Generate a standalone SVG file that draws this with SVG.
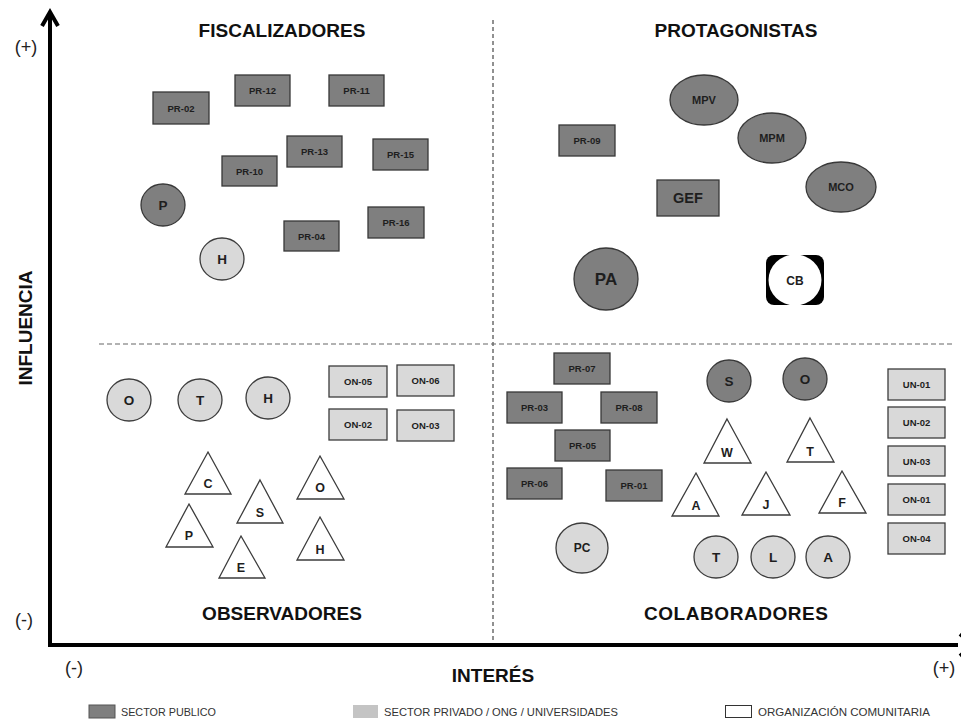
<svg xmlns="http://www.w3.org/2000/svg" width="961" height="719" viewBox="0 0 961 719">
<style>
text{font-family:"Liberation Sans",Arial,sans-serif;fill:#1e1e1e;text-anchor:middle}
.t{font-size:19px;font-weight:bold;fill:#111}
.l{font-size:9.5px;font-weight:bold}
.m{font-size:11px;font-weight:bold}
.c{font-size:13.5px;font-weight:bold}
.tr{font-size:12.5px;font-weight:bold}
.pub{fill:#7f7f7f;stroke:#383838;stroke-width:1.3}
.priv{fill:#d9d9d9;stroke:#3c3c3c;stroke-width:1.3}
.com{fill:#fff;stroke:#3c3c3c;stroke-width:1.3}
.ax{fill:none;stroke:#000;stroke-width:4}
.sign{font-size:18px;fill:#222}
.leg{font-size:10.5px;fill:#333;text-anchor:start}
</style>
<defs>
<clipPath id="cbclip"><rect x="766" y="255" width="58" height="50" rx="8"/></clipPath>
</defs>
<rect width="961" height="719" fill="#fff"/>

<g id="axes">
<line x1="493" y1="20" x2="493" y2="642" stroke="#222" stroke-width="1" stroke-dasharray="4 3"/>
<line x1="99" y1="344" x2="952" y2="344" stroke="#666" stroke-width="1.2" stroke-dasharray="5 3"/>
<line class="ax" x1="50" y1="647" x2="50" y2="12"/>
<polyline class="ax" points="42,26 50,12 58,26"/>
<line class="ax" x1="48" y1="645" x2="958" y2="645"/>
<polyline class="ax" points="960,634 973,645 960,656"/>
<text class="sign" x="26" y="53">(+)</text>
<text class="sign" x="24" y="626">(-)</text>
<text class="sign" x="74" y="674">(-)</text>
<text class="sign" x="944" y="674">(+)</text>
<text class="t" transform="translate(32,328) rotate(-90)">INFLUENCIA</text>
<text class="t" x="493" y="682">INTERÉS</text>
</g>

<g id="titles">
<text class="t" x="282" y="37">FISCALIZADORES</text>
<text class="t" x="736" y="37">PROTAGONISTAS</text>
<text class="t" x="282" y="620">OBSERVADORES</text>
<text class="t" x="736" y="620" textLength="184">COLABORADORES</text>
</g>

<g id="connectors"></g>

<!-- Fiscalizadores -->
<g id="pr02"><rect class="pub" x="153" y="92" width="56" height="32"/><text class="l" x="181" y="111.5">PR-02</text></g>
<g id="pr12"><rect class="pub" x="235" y="75" width="55" height="31"/><text class="l" x="262.5" y="94">PR-12</text></g>
<g id="pr11"><rect class="pub" x="329" y="75" width="55" height="31"/><text class="l" x="356.5" y="94">PR-11</text></g>
<g id="pr13"><rect class="pub" x="287" y="136" width="55" height="31"/><text class="l" x="314.5" y="155">PR-13</text></g>
<g id="pr15"><rect class="pub" x="373" y="139" width="55" height="31"/><text class="l" x="400.5" y="158">PR-15</text></g>
<g id="pr10"><rect class="pub" x="222" y="156" width="55" height="30"/><text class="l" x="249.5" y="174.5">PR-10</text></g>
<g id="pr04"><rect class="pub" x="284" y="221" width="55" height="30"/><text class="l" x="311.5" y="239.5">PR-04</text></g>
<g id="pr16"><rect class="pub" x="368" y="207" width="56" height="31"/><text class="l" x="396" y="226">PR-16</text></g>
<g id="p1"><ellipse class="pub" cx="163" cy="205" rx="22" ry="21"/><text class="c" x="163" y="210">P</text></g>
<g id="h1"><ellipse class="priv" cx="222" cy="259" rx="22" ry="21"/><text class="c" x="222" y="264">H</text></g>

<!-- Protagonistas -->
<g id="mpv"><ellipse class="pub" cx="704" cy="100" rx="34" ry="25"/><text class="m" x="704" y="104">MPV</text></g>
<g id="mpm"><ellipse class="pub" cx="772" cy="138" rx="34" ry="25"/><text class="m" x="772" y="142">MPM</text></g>
<g id="mco"><ellipse class="pub" cx="841" cy="187" rx="35" ry="25"/><text class="m" x="841" y="191">MCO</text></g>
<g id="pr09"><rect class="pub" x="559" y="125" width="56" height="31"/><text class="l" x="587" y="144">PR-09</text></g>
<g id="gef"><rect class="pub" x="657" y="180" width="62" height="36"/><text x="688" y="203" style="font-size:14.5px;font-weight:bold">GEF</text></g>
<g id="pa"><ellipse class="pub" cx="606" cy="279" rx="32" ry="31" stroke-width="2"/><text x="606" y="285" style="font-size:17px;font-weight:bold">PA</text></g>
<g id="cb"><rect x="766" y="255" width="58" height="50" rx="8" fill="#000"/><ellipse cx="795" cy="280" rx="26.5" ry="25.5" fill="#fff" clip-path="url(#cbclip)"/><text x="795" y="284.5" style="font-size:12px;font-weight:bold">CB</text></g>

<!-- Observadores -->
<g id="o1"><ellipse class="priv" cx="129" cy="400" rx="22" ry="21"/><text class="c" x="129" y="405">O</text></g>
<g id="t1"><ellipse class="priv" cx="200" cy="400" rx="22" ry="21"/><text class="c" x="200" y="405">T</text></g>
<g id="h2"><ellipse class="priv" cx="268" cy="398" rx="22" ry="21"/><text class="c" x="268" y="403">H</text></g>
<g id="on05"><rect class="priv" x="329" y="366" width="58" height="31"/><text class="l" x="358" y="385">ON-05</text></g>
<g id="on06"><rect class="priv" x="397" y="365" width="57" height="31"/><text class="l" x="425.5" y="384">ON-06</text></g>
<g id="on02"><rect class="priv" x="329" y="409" width="58" height="31"/><text class="l" x="358" y="428">ON-02</text></g>
<g id="on03"><rect class="priv" x="397" y="410" width="57" height="31"/><text class="l" x="425.5" y="429">ON-03</text></g>
<g id="tc"><polygon class="com" points="208,452 231,494 185,494"/><text class="tr" x="208" y="488">C</text></g>
<g id="ts"><polygon class="com" points="260,480 283,523 237,523"/><text class="tr" x="260" y="517">S</text></g>
<g id="to"><polygon class="com" points="320,456 344,499 297,499"/><text class="tr" x="320" y="492">O</text></g>
<g id="tp"><polygon class="com" points="189,504 213,547 166,547"/><text class="tr" x="189" y="540">P</text></g>
<g id="te"><polygon class="com" points="241,536 265,578 219,578"/><text class="tr" x="241" y="572">E</text></g>
<g id="th"><polygon class="com" points="320,517 344,560 297,560"/><text class="tr" x="320" y="554">H</text></g>

<!-- Colaboradores -->
<g id="pr07"><rect class="pub" x="554" y="353" width="56" height="31"/><text class="l" x="582" y="372">PR-07</text></g>
<g id="pr03"><rect class="pub" x="507" y="392" width="55" height="31"/><text class="l" x="534.5" y="411">PR-03</text></g>
<g id="pr08"><rect class="pub" x="601" y="392" width="56" height="31"/><text class="l" x="629" y="411">PR-08</text></g>
<g id="pr05"><rect class="pub" x="555" y="430" width="55" height="31"/><text class="l" x="582.5" y="449">PR-05</text></g>
<g id="pr06"><rect class="pub" x="507" y="468" width="55" height="31"/><text class="l" x="534.5" y="487">PR-06</text></g>
<g id="pr01"><rect class="pub" x="606" y="470" width="56" height="31"/><text class="l" x="634" y="489">PR-01</text></g>
<g id="pc"><ellipse class="priv" cx="582" cy="548" rx="26" ry="25"/><text x="582" y="552" style="font-size:12px;font-weight:bold">PC</text></g>
<g id="s2"><ellipse class="pub" cx="729" cy="381" rx="22" ry="21"/><text class="c" x="729" y="386">S</text></g>
<g id="o2"><ellipse class="pub" cx="805" cy="379" rx="22" ry="21"/><text class="c" x="805" y="384">O</text></g>
<g id="tw"><polygon class="com" points="727,419 751,463 704,463"/><text class="tr" x="727" y="457">W</text></g>
<g id="tt"><polygon class="com" points="810,418 834,462 787,462"/><text class="tr" x="810" y="456">T</text></g>
<g id="ta"><polygon class="com" points="696,473 719,516 672,516"/><text class="tr" x="696" y="510">A</text></g>
<g id="tj"><polygon class="com" points="766,472 790,515 742,515"/><text class="tr" x="766" y="509">J</text></g>
<g id="tf"><polygon class="com" points="842,471 866,513 819,513"/><text class="tr" x="842" y="507">F</text></g>
<g id="t2"><ellipse class="priv" cx="716" cy="557" rx="22" ry="21"/><text class="c" x="716" y="562">T</text></g>
<g id="l2"><ellipse class="priv" cx="773" cy="557" rx="22" ry="21"/><text class="c" x="773" y="562">L</text></g>
<g id="a2"><ellipse class="priv" cx="828" cy="557" rx="22" ry="21"/><text class="c" x="828" y="562">A</text></g>
<g id="un01"><rect class="priv" x="888" y="369" width="57" height="31"/><text class="l" x="916.5" y="388">UN-01</text></g>
<g id="un02"><rect class="priv" x="888" y="407" width="57" height="31"/><text class="l" x="916.5" y="426">UN-02</text></g>
<g id="un03"><rect class="priv" x="888" y="446" width="57" height="30"/><text class="l" x="916.5" y="464.5">UN-03</text></g>
<g id="on01"><rect class="priv" x="888" y="484" width="57" height="31"/><text class="l" x="916.5" y="503">ON-01</text></g>
<g id="on04"><rect class="priv" x="888" y="523" width="57" height="31"/><text class="l" x="916.5" y="542">ON-04</text></g>

<!-- Legend -->
<g id="legend">
<rect x="89" y="705" width="26" height="13" fill="#7f7f7f" stroke="#555" stroke-width="1"/>
<text class="leg" x="121" y="716" textLength="95" lengthAdjust="spacingAndGlyphs">SECTOR PUBLICO</text>
<rect x="353" y="705" width="25" height="13" fill="#c4c4c4"/>
<text class="leg" x="384" y="716" textLength="234" lengthAdjust="spacingAndGlyphs">SECTOR PRIVADO / ONG / UNIVERSIDADES</text>
<rect x="725.5" y="705.5" width="26" height="12" fill="#fff" stroke="#333" stroke-width="1"/>
<text class="leg" x="758" y="716" textLength="172" lengthAdjust="spacingAndGlyphs">ORGANIZACIÓN COMUNITARIA</text>
</g>
</svg>
